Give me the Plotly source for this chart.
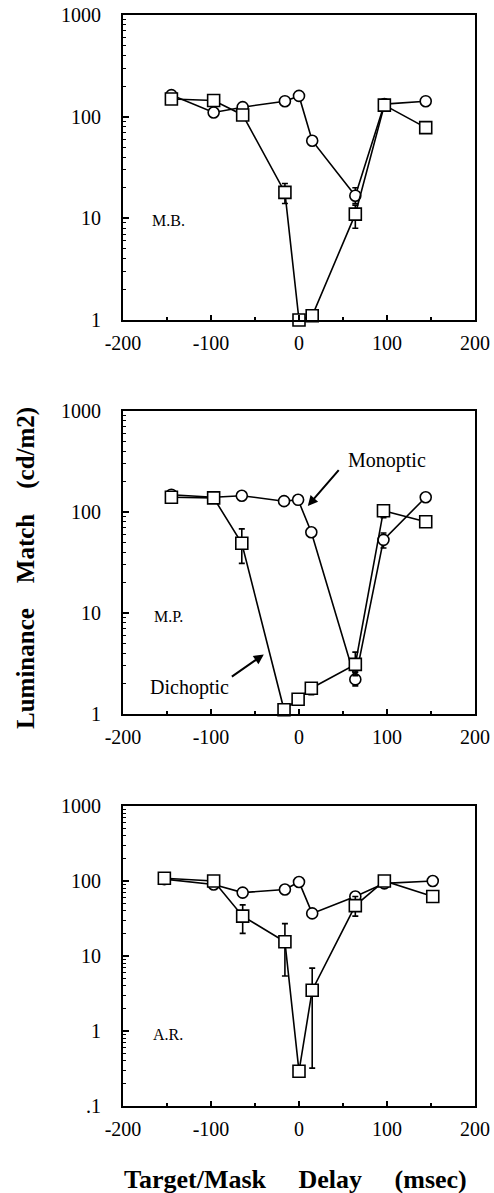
import numpy as np
import plotly.graph_objects as go

# ---------------- data ----------------
# Panel 1: M.B.
x_mb = [-145, -97, -64, -16, 0, 15, 64, 97, 144]
mono_mb = [163, 110, 124, 142, 160, 58, 16.7, 133, 142]
dich_mb = [149, 144, 104, 18, 1.0, 1.1, 11, 130, 78]
mono_mb_hi = [None, None, None, None, None, None, 20, None, None]
mono_mb_lo = [None, None, None, None, None, None, 14, None, None]
dich_mb_hi = [None, None, None, 22, None, None, 13.5, None, None]
dich_mb_lo = [None, None, None, 14, None, None, 8, None, None]

# Panel 2: M.P.
x_mp = [-145, -97, -65, -17, -1, 14, 64, 96, 144]
mono_mp = [148, 140, 145, 128, 132, 63, 2.2, 53, 140]
dich_mp = [140, 138, 49, 1.1, 1.4, 1.8, 3.1, 103, 80]
mono_mp_hi = [None, None, None, None, None, None, 2.6, 62, None]
mono_mp_lo = [None, None, None, None, None, None, 1.9, 44, None]
dich_mp_hi = [None, None, 68, None, None, 2.0, 4.1, 115, None]
dich_mp_lo = [None, None, 31, None, None, 1.55, 2.4, 88, None]

# Panel 3: A.R.
x_ar = [-153, -97, -64, -16, 0, 15, 64, 97, 152]
mono_ar = [106, 90, 70, 77, 97, 37, 62, 93, 100]
dich_ar = [109, 100, 34, 15.5, 0.29, 3.5, 47, 100, 62]
mono_ar_hi = [None, None, None, None, None, None, 72, None, None]
mono_ar_lo = [None, None, None, None, None, None, 55, None, None]
dich_ar_hi = [None, None, 48, 27, None, 6.9, 62, None, None]
dich_ar_lo = [None, None, 20, 5.4, None, 0.32, 34, None, None]

subjects = ["M.B.", "M.P.", "A.R."]
x_ticks = [-200, -100, 0, 100, 200]
y_ticks_top = [1, 10, 100, 1000]
y_ticktext_top = ["1", "10", "100", "1000"]
y_ticks_bot = [0.1, 1, 10, 100, 1000]
y_ticktext_bot = [".1", "1", "10", "100", "1000"]

# ---------------- figure ----------------
W, H = 494, 1193
FONT = "Liberation Serif, Times New Roman, serif"

def px_x(p):
    return p / W

def px_y(p):
    return 1 - p / H

def err(vals, hi, lo):
    v = np.array(vals, dtype=float)
    h = np.array([np.nan if a is None else a for a in hi], dtype=float)
    l = np.array([np.nan if a is None else a for a in lo], dtype=float)
    plus = h - v
    minus = v - l
    return [None if np.isnan(p) else p for p in plus], [None if np.isnan(m) else m for m in minus]

panels = [
    (x_mb, mono_mb, dich_mb, mono_mb_hi, mono_mb_lo, dich_mb_hi, dich_mb_lo),
    (x_mp, mono_mp, dich_mp, mono_mp_hi, mono_mp_lo, dich_mp_hi, dich_mp_lo),
    (x_ar, mono_ar, dich_ar, mono_ar_hi, mono_ar_lo, dich_ar_hi, dich_ar_lo),
]

# plot boxes in page pixels (top, bottom)
boxes = [(15, 320), (411, 714), (806, 1106)]
x_left, x_right = 123, 475

fig = go.Figure()
layout = dict(
    template="none",
    width=W, height=H, autosize=False,
    margin=dict(l=0, r=0, t=0, b=0, pad=0),
    paper_bgcolor="white", plot_bgcolor="white",
    showlegend=False,
    font=dict(family=FONT, color="black", size=20),
)

for i, (xs, mono, dich, mhi, mlo, dhi, dlo) in enumerate(panels):
    n = i + 1
    xa = "x" if n == 1 else f"x{n}"
    ya = "y" if n == 1 else f"y{n}"
    mp, mm = err(mono, mhi, mlo)
    dp, dm = err(dich, dhi, dlo)
    for vals, ep, em, sym, sz in [(mono, mp, mm, "circle", 11), (dich, dp, dm, "square", 12)]:
        fig.add_trace(go.Scatter(
            x=xs, y=vals, xaxis=xa, yaxis=ya, mode="lines+markers",
            line=dict(color="black", width=1.6),
            marker=dict(symbol=sym, size=sz, color="white",
                        line=dict(color="black", width=1.6)),
            error_y=dict(type="data", symmetric=False, array=ep, arrayminus=em,
                         color="black", thickness=1.6, width=3),
            cliponaxis=False,
        ))
    top, bot = boxes[i]
    ydom = [px_y(bot), px_y(top)]
    xdom = [px_x(x_left), px_x(x_right)]
    if n == 3:
        yr, tv, tt = [-1, 3], y_ticks_bot, y_ticktext_bot
    else:
        yr, tv, tt = [0, 3], y_ticks_top, y_ticktext_top
    layout["xaxis" if n == 1 else f"xaxis{n}"] = dict(
        domain=xdom, anchor=ya, range=[-200, 200], automargin=False,
        tickvals=x_ticks, ticktext=[str(v) for v in x_ticks],
        ticks="inside", ticklen=5, tickwidth=1.5, tickcolor="black",
        minor=dict(dtick=50, tick0=0, ticks="inside", ticklen=3, tickwidth=1.5, tickcolor="black"),
        showline=True, linecolor="black", linewidth=2, mirror=True,
        showgrid=False, zeroline=False,
        tickfont=dict(family=FONT, size=20, color="black"),
        ticklabelstandoff=4, ticklabeloverflow="allow",
    )
    layout["yaxis" if n == 1 else f"yaxis{n}"] = dict(
        domain=ydom, anchor=xa, type="log", range=yr, automargin=False,
        tickvals=tv, ticktext=tt,
        ticks="inside", ticklen=6, tickwidth=1.5, tickcolor="black",
        minor=dict(dtick="D1", ticks="inside", ticklen=3, tickwidth=1.2, tickcolor="black"),
        showline=True, linecolor="black", linewidth=2, mirror=True,
        showgrid=False, zeroline=False,
        tickfont=dict(family=FONT, size=20, color="black"),
        ticklabelstandoff=16, ticklabeloverflow="allow",
    )

annotations = []
# subject labels
sub_pos = [(-169, 0.98), (-167, 0.97), (-168, -0.05)]
for i, (lab, (sx, sy)) in enumerate(zip(subjects, sub_pos)):
    n = i + 1
    annotations.append(dict(
        text=lab, x=sx, y=sy, xref="x" if n == 1 else f"x{n}", yref="y" if n == 1 else f"y{n}",
        xanchor="left", yanchor="middle", showarrow=False,
        font=dict(family=FONT, size=16, color="black"),
    ))

# Monoptic / Dichoptic labels and arrows (panel 2)
annotations += [
    dict(text="Monoptic", x=53, y=2.51, xref="x2", yref="y2", xanchor="left", yanchor="middle",
         showarrow=False, font=dict(family=FONT, size=20, color="black")),
    dict(text="", x=10, y=2.06, xref="x2", yref="y2", ax=46.6, ay=2.43, axref="x2", ayref="y2",
         showarrow=True, arrowhead=2, arrowsize=1, arrowwidth=2, arrowcolor="black"),
    dict(text="Dichoptic", x=-172, y=0.26, xref="x2", yref="y2", xanchor="left", yanchor="middle",
         showarrow=False, font=dict(family=FONT, size=20, color="black")),
    dict(text="", x=-40, y=0.59, xref="x2", yref="y2", ax=-78, ay=0.36, axref="x2", ayref="y2",
         showarrow=True, arrowhead=2, arrowsize=1, arrowwidth=2, arrowcolor="black"),
]

# axis titles
annotations += [
    dict(text="<b>Luminance    Match    (cd/m2)</b>", x=px_x(26), y=px_y(568), xref="paper", yref="paper",
         textangle=-90, showarrow=False, xanchor="center", yanchor="middle",
         font=dict(family=FONT, size=25, color="black")),
    dict(text="<b>Target/Mask     Delay     (msec)</b>", x=px_x(295), y=px_y(1179), xref="paper", yref="paper",
         showarrow=False, xanchor="center", yanchor="middle",
         font=dict(family=FONT, size=26, color="black")),
]
layout["annotations"] = annotations

fig.update_layout(**layout)
fig.write_html(
    "out.html",
    config={"displayModeBar": False},
    post_script="document.body.style.margin='0';document.body.style.overflow='hidden';",
)
